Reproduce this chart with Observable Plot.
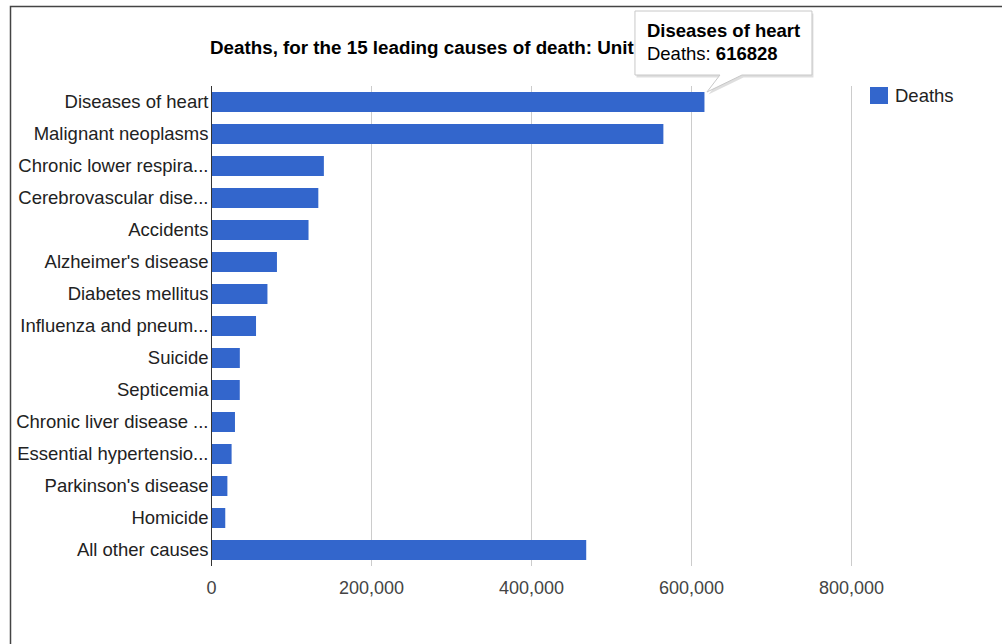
<!DOCTYPE html>
<html><head><meta charset="utf-8">
<script src="https://cdn.jsdelivr.net/npm/d3@7"></script>
<script src="https://cdn.jsdelivr.net/npm/@observablehq/plot@0.6"></script>
<style>body{margin:0;background:#fff} svg{display:block}</style>
</head><body><div id="chart"></div>
<script>
const causes = [
  "Diseases of heart",
  "Malignant neoplasms",
  "Chronic lower respira...",
  "Cerebrovascular dise...",
  "Accidents",
  "Alzheimer's disease",
  "Diabetes mellitus",
  "Influenza and pneum...",
  "Suicide",
  "Septicemia",
  "Chronic liver disease ...",
  "Essential hypertensio...",
  "Parkinson's disease",
  "Homicide",
  "All other causes"
];
const deaths = [616828, 565469, 141090, 134148, 121902, 82435, 70553, 56284, 36035, 35961, 29963, 25742, 20483, 17826, 469028];
const xTicks = [0, 200000, 400000, 600000, 800000];
const xDomain = [0, 800000];
const titleText = "Deaths, for the 15 leading causes of death: Unit";
const seriesName = "Deaths";
const tooltipCause = "Diseases of heart";
const tooltipIndex = 0;

const FONT = "'Liberation Sans', Arial, Helvetica, sans-serif";
const BLUE = "#3366cc";
const data = causes.map((c, i) => ({cause: c, deaths: deaths[i]}));

const plot = Plot.plot({
  width: 1002, height: 644,
  marginLeft: 211, marginRight: 151, marginTop: 86, marginBottom: 78,
  style: {fontFamily: FONT, fontSize: "18px", background: "#fff", overflow: "visible"},
  x: {domain: xDomain, label: null},
  y: {domain: causes, paddingInner: 0.375, paddingOuter: 0.1875, label: null},
  marks: [
    Plot.gridX(xTicks, {stroke: "#cccccc", strokeOpacity: 1}),
    Plot.barX(data, {x: "deaths", y: "cause", fill: BLUE}),
    Plot.ruleX([0], {stroke: "#333", strokeWidth: 1}),
    Plot.axisX(xTicks, {tickSize: 0, tickPadding: 15, tickFormat: d3.format(","), color: "#444", fontSize: 18}),
    Plot.axisY({tickSize: 0, tickPadding: 3, color: "#222", fontSize: 18.5})
  ]
});
document.getElementById("chart").appendChild(plot);

const svg = d3.select(plot);
const xs = plot.scale("x"), ys = plot.scale("y");

// outer frame
svg.append("path").attr("d", "M10.5,644 V6.5 H1002").attr("fill", "none").attr("stroke", "#444").attr("stroke-width", 1.5);

// title (its tail is hidden by the tooltip in the original)
svg.append("text").attr("x", xs.apply(0) - 1).attr("y", 54).attr("text-anchor", "start")
  .attr("font-family", FONT).attr("font-size", 18.8).attr("font-weight", "bold").attr("fill", "#000")
  .text(titleText);

// legend
svg.append("rect").attr("x", 870).attr("y", 87).attr("width", 18).attr("height", 17).attr("fill", BLUE);
svg.append("text").attr("x", 895).attr("y", 102).attr("text-anchor", "start").attr("font-family", FONT).attr("font-size", 18.5).attr("fill", "#222").text(seriesName);

// tooltip
const tipX = xs.apply(deaths[tooltipIndex]) + 2.5;
const tipY = ys.apply(tooltipCause);
const bx0 = tipX - 72, bx1 = tipX + 105, by0 = 11, by1 = 75;
const p1 = tipX + 13, p2 = tipX + 35;
const tipPath = `M${bx0},${by0} H${bx1} V${by1} H${p2} L${tipX},${tipY} L${p1},${by1} H${bx0} Z`;
const g = svg.append("g").attr("text-anchor", "start");
g.append("path").attr("d", tipPath).attr("transform", "translate(1.5,2.5)").attr("fill", "rgba(0,0,0,0.13)");
g.append("path").attr("d", tipPath).attr("fill", "#fff").attr("stroke", "#c8c8c8").attr("stroke-width", 1);
g.append("text").attr("x", bx0 + 12).attr("y", 37).attr("font-family", FONT).attr("font-size", 18.5)
  .attr("font-weight", "bold").attr("fill", "#000").text(tooltipCause);
const t2 = g.append("text").attr("x", bx0 + 12).attr("y", 60).attr("font-family", FONT).attr("font-size", 18.5).attr("fill", "#000");
t2.append("tspan").text(seriesName + ": ");
t2.append("tspan").attr("font-weight", "bold").text(String(deaths[tooltipIndex]));
</script>
</body></html>
